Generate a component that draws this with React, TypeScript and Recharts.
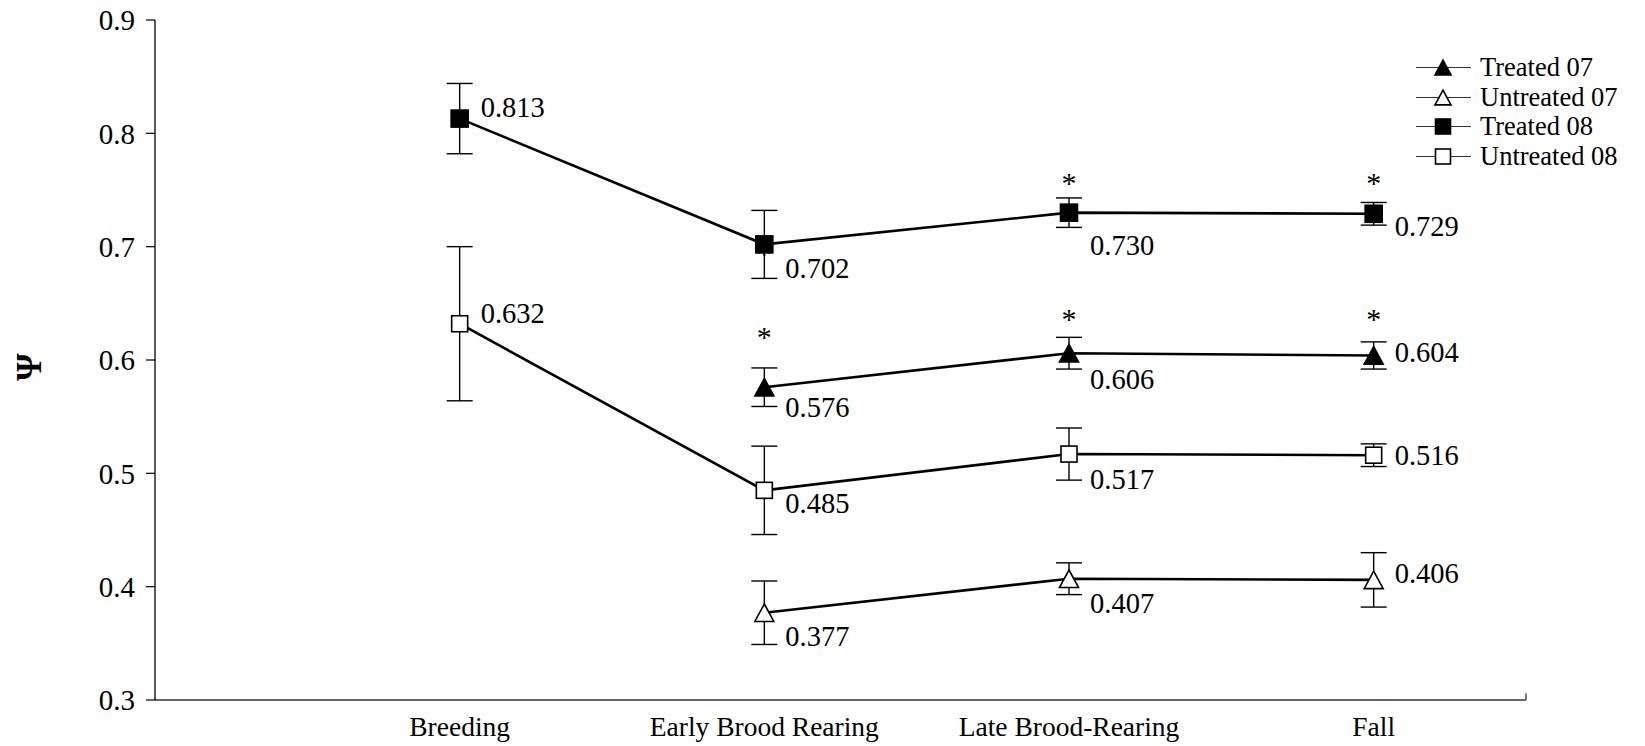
import {
  LineChart,
  Line,
  XAxis,
  YAxis,
  ErrorBar,
  LabelList,
  Legend,
  ReferenceLine,
} from 'recharts';

const FONT = '"Liberation Serif", "Times New Roman", serif';

// categories on the x axis
const categories = ['Breeding', 'Early Brood Rearing', 'Late Brood-Rearing', 'Fall'];

// occupancy estimates
const treated07 = [null, 0.576, 0.606, 0.604];
const untreated07 = [null, 0.377, 0.407, 0.406];
const treated08 = [0.813, 0.702, 0.73, 0.729];
const untreated08 = [0.632, 0.485, 0.517, 0.516];

// standard errors
const treated07Err = [null, 0.017, 0.014, 0.012];
const untreated07Err = [null, 0.028, 0.014, 0.024];
const treated08Err = [0.031, 0.03, 0.013, 0.01];
const untreated08Err = [0.068, 0.039, 0.023, 0.01];

// where the significance asterisks sit (psi units)
const treated07Star = [null, 0.622, 0.638, 0.638];
const treated08Star = [null, 0.695, 0.758, 0.758];

const yTicks = [0.3, 0.4, 0.5, 0.6, 0.7, 0.8, 0.9];

const data = categories.map((c, i) => ({
  x: i,
  name: c,
  t07: treated07[i],
  t07Err: treated07Err[i],
  u07: untreated07[i],
  u07Err: untreated07Err[i],
  t08: treated08[i],
  t08Err: treated08Err[i],
  u08: untreated08[i],
  u08Err: untreated08Err[i],
  t07Star: treated07Star[i],
  t08Star: treated08Star[i],
}));

type Shape = 'triangle' | 'square';

const series: { key: string; name: string; shape: Shape; filled: boolean; size: number }[] = [
  { key: 'u07', name: 'Untreated 07', shape: 'triangle', filled: false, size: 19 },
  { key: 't07', name: 'Treated 07', shape: 'triangle', filled: true, size: 19 },
  { key: 'u08', name: 'Untreated 08', shape: 'square', filled: false, size: 16 },
  { key: 't08', name: 'Treated 08', shape: 'square', filled: true, size: 17 },
];

const legendOrder = ['t07', 'u07', 't08', 'u08'];

// label nudges, px below the point
const labelDy: Record<string, number[]> = {
  t07: [0, 20, 26, -3],
  u07: [0, 24, 25, -6],
  t08: [-11, 24, 33, 13],
  u08: [-10, 13, 25, 0],
};

function Marker({ cx, cy, shape, filled, size }: { cx: number; cy: number; shape: Shape; filled: boolean; size: number }) {
  const fill = filled ? '#000' : '#fff';
  if (shape === 'square') {
    return (
      <rect
        x={cx - size / 2}
        y={cy - size / 2}
        width={size}
        height={size}
        fill={fill}
        stroke="#000"
        strokeWidth={1.6}
      />
    );
  }
  const w = size;
  const h = size * 0.92;
  return (
    <polygon
      points={`${cx},${cy - h / 2} ${cx + w / 2},${cy + h / 2} ${cx - w / 2},${cy + h / 2}`}
      fill={fill}
      stroke="#000"
      strokeWidth={1.6}
      strokeLinejoin="miter"
    />
  );
}

const dotFor = (s: (typeof series)[number]) => (props: any) => {
  const { cx, cy, value, index } = props;
  if (value == null || cy == null || isNaN(cy)) return <g key={`${s.key}-d-${index}`} />;
  return (
    <g key={`${s.key}-d-${index}`}>
      <Marker cx={cx} cy={cy} shape={s.shape} filled={s.filled} size={s.size} />
    </g>
  );
};

const starDot = (name: string) => (props: any) => {
  const { cx, cy, value, index } = props;
  if (value == null || cy == null || isNaN(cy)) return <g key={`${name}-${index}`} />;
  return (
    <text
      key={`${name}-${index}`}
      x={cx}
      y={cy + 12}
      textAnchor="middle"
      fontFamily={FONT}
      fontSize={30}
      fill="#000"
    >
      *
    </text>
  );
};

const valueLabel = (key: string) => (props: any) => {
  const { x, y, value, index } = props;
  if (value == null) return null;
  return (
    <text
      x={x + 21}
      y={y + labelDy[key][index]}
      dominantBaseline="central"
      fontFamily={FONT}
      fontSize={28.5}
      fill="#000"
    >
      {Number(value).toFixed(3)}
    </text>
  );
};

const ROW = 29.5;

function LegendBox() {
  return (
    <div style={{ fontFamily: FONT, fontSize: 26.5, lineHeight: `${ROW}px`, color: '#000' }}>
      {legendOrder.map((k) => {
        const s = series.find((d) => d.key === k)!;
        return (
          <div key={k} style={{ display: 'flex', alignItems: 'center', height: ROW, whiteSpace: 'nowrap' }}>
            <svg width={64} height={27} style={{ display: 'block' }}>
              <line x1={0} x2={55} y1={13.5} y2={13.5} stroke="#333" strokeWidth={1.2} />
              <Marker cx={27} cy={13.5} shape={s.shape} filled={s.filled} size={s.shape === 'square' ? 15 : 16} />
            </svg>
            <span>{s.name}</span>
          </div>
        );
      })}
    </div>
  );
}

function PsiLabel(props: any) {
  const vb = props.viewBox || { x: 0, y: 20, width: 155, height: 680 };
  const x = vb.x + 29;
  const y = vb.y + vb.height / 2 + 7;
  return (
    <text
      x={x}
      y={y}
      transform={`rotate(-90, ${x}, ${y})`}
      textAnchor="middle"
      dominantBaseline="central"
      fontFamily={FONT}
      fontWeight="bold"
      fontSize={35}
      fill="#000"
    >
      Ψ
    </text>
  );
}

export default function App() {
  return (
    <div style={{ position: 'absolute', left: 0, top: 0, width: 1645, height: 746, background: '#fff' }}>
      <LineChart width={1645} height={746} data={data} margin={{ top: 20, right: 119, bottom: 0, left: 0 }}>
        <XAxis
          type="number"
          dataKey="x"
          domain={[-1, 3.5]}
          ticks={[0, 1, 2, 3]}
          tickFormatter={(i: number) => categories[i] ?? ''}
          allowDataOverflow
          height={46}
          axisLine={{ stroke: '#333', strokeWidth: 1.5 }}
          tickLine={false}
          tickSize={0}
          tickMargin={16}
          tick={{ fontFamily: FONT, fontSize: 27.5, fill: '#000' }}
        />
        <YAxis
          type="number"
          domain={[0.3, 0.9]}
          ticks={yTicks}
          tickFormatter={(v: number) => v.toFixed(1)}
          width={155}
          axisLine={{ stroke: '#000', strokeWidth: 1.3 }}
          tickLine={{ stroke: '#000', strokeWidth: 1.2 }}
          tickSize={9}
          tickMargin={11}
          tick={{ fontFamily: FONT, fontSize: 29, fill: '#000' }}
          label={<PsiLabel />}
        />
        <ReferenceLine
          segment={[
            { x: 3.5, y: 0.3 },
            { x: 3.5, y: 0.306 },
          ]}
          stroke="#333"
          strokeWidth={1.3}
          ifOverflow="visible"
        />
        <Line
          dataKey="t08Star"
          stroke="none"
          dot={starDot('s08')}
          activeDot={false}
          isAnimationActive={false}
          legendType="none"
        />
        <Line
          dataKey="t07Star"
          stroke="none"
          dot={starDot('s07')}
          activeDot={false}
          isAnimationActive={false}
          legendType="none"
        />
        {series.map((s) => (
          <Line
            key={s.key}
            dataKey={s.key}
            name={s.name}
            stroke="#000"
            strokeWidth={2.6}
            dot={dotFor(s)}
            activeDot={false}
            isAnimationActive={false}
          >
            <ErrorBar dataKey={`${s.key}Err`} width={13} stroke="#000" strokeWidth={1.4} direction="y" />
            <LabelList dataKey={s.key} content={valueLabel(s.key)} />
          </Line>
        ))}
        <Legend
          layout="vertical"
          align="center"
          verticalAlign="middle"
          content={<LegendBox />}
          wrapperStyle={{ left: 1416, top: 53, width: 230, height: 120 }}
        />
      </LineChart>
    </div>
  );
}
